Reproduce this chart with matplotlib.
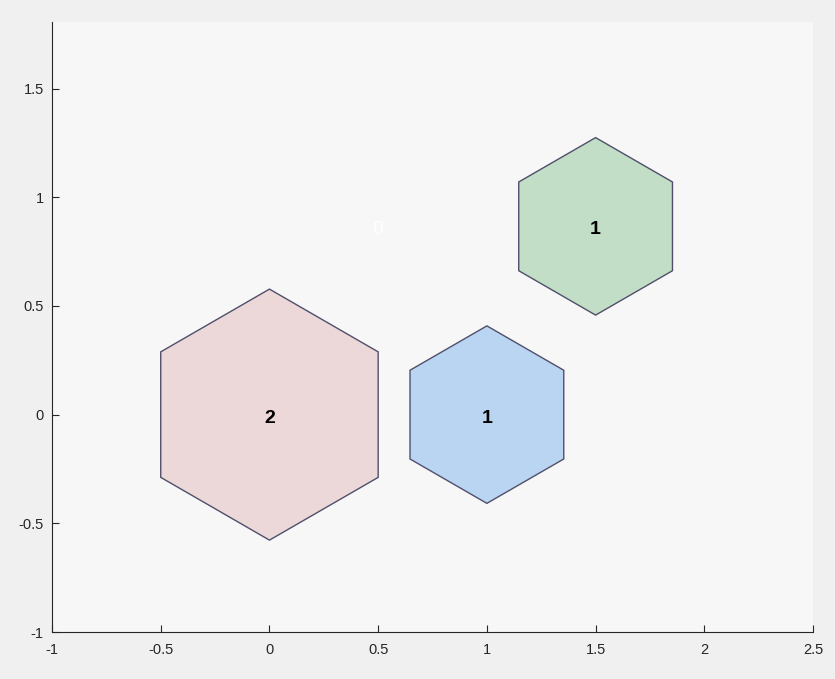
import numpy as np
import matplotlib
matplotlib.use("Agg")
import matplotlib.pyplot as plt
from matplotlib.patches import RegularPolygon

# hexagon data: centres and counts
hex_x = [0.0, 1.0, 1.5, 0.5]
hex_y = [0.0, 0.0, 0.866, 0.866]
counts = [2, 1, 1, 0]
fills = ["#ecd8d8", "#b9d5f2", "#c2dec6", "#f7f7f7"]

xticks = [-1, -0.5, 0, 0.5, 1, 1.5, 2, 2.5]
yticks = [-1, -0.5, 0, 0.5, 1, 1.5]

plt.rcParams['font.family'] = ['Liberation Sans', 'DejaVu Sans']

fig = plt.figure(figsize=(8.35, 6.79), dpi=100, facecolor="#f0f0f0")
ax = fig.add_axes([0.0623, 0.0692, 0.9114, 0.8984], facecolor="#f7f7f7")

for x, y, c, col in zip(hex_x, hex_y, counts, fills):
    r = np.sqrt(c / 6.0)  # area scales with count
    if r > 0:
        ax.add_patch(RegularPolygon((x, y), numVertices=6, radius=r,
                                    orientation=0, facecolor=col,
                                    edgecolor="#4f4f6b", linewidth=1.0))
    txt_col = "black" if c > 0 else "white"
    ax.annotate(str(c), (x, y), xytext=(0, -2.5), textcoords="offset points",
                ha="center", va="center", fontsize=14,
                fontweight="bold" if c > 0 else "normal", color=txt_col)

ax.set_xlim(-1, 2.5)
ax.set_ylim(-1, 1.806)
ax.set_xticks(xticks)
ax.set_yticks(yticks)
ax.set_xticklabels([f"{t:g}" for t in xticks])
ax.set_yticklabels([f"{t:g}" for t in yticks])

for s in ["top", "right"]:
    ax.spines[s].set_visible(False)
for s in ["left", "bottom"]:
    ax.spines[s].set_color("#262626")
    ax.spines[s].set_linewidth(0.8)
ax.tick_params(direction="in", length=5, width=0.8, colors="#262626",
               labelsize=10.5)
ax.tick_params(axis="x", pad=8)
ax.tick_params(axis="y", pad=6)

fig.savefig("out.png", dpi=100, facecolor=fig.get_facecolor())
